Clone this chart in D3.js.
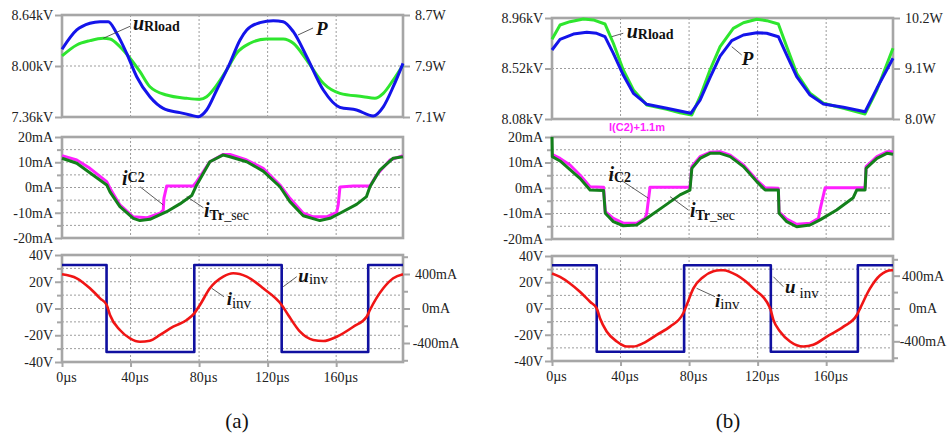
<!DOCTYPE html>
<html>
<head>
<meta charset="utf-8">
<script src="https://cdn.jsdelivr.net/npm/d3@7"></script>
<style>
  body { margin: 0; background: #fff; }
</style>
</head>
<body>
<div id="chart"></div>
<script>
// shared time axis (µs)
const timeDomain = [0, 199];
const timeTicks = [0, 40, 80, 120, 160];

// ---- panel (a) ----
// top: load voltage (kV, left) and power (W, right)
const aLoadVoltage = [[0,8.126],[8.6,8.264],[16.3,8.318],[24.1,8.347],[28,8.339],[33.8,8.242],[39.7,8.097],[45.5,7.929],[51.3,7.74],[61,7.636],[72.7,7.595],[80.5,7.582],[84.4,7.615],[90.3,7.76],[96.1,7.95],[101.9,8.16],[109.7,8.285],[119.4,8.339],[129.1,8.339],[135,8.285],[142.8,8.075],[152.5,7.783],[162.2,7.657],[175.8,7.615],[182.6,7.595],[187.5,7.657],[193.3,7.824],[199,8.013]];
const aPower = [[0,8.162],[8.6,8.465],[16.3,8.57],[22.2,8.595],[27,8.595],[31.9,8.413],[37.7,8.1],[43.6,7.732],[51.3,7.418],[59.1,7.236],[68.8,7.168],[74.7,7.131],[79.5,7.105],[84.4,7.21],[90.3,7.524],[98,7.945],[103.9,8.308],[107.8,8.465],[115.5,8.58],[123.3,8.61],[129.1,8.595],[135,8.438],[142.8,8.046],[152.5,7.524],[162.2,7.252],[171.9,7.21],[181.6,7.116],[187.5,7.26],[193.3,7.575],[199,7.942]];
// middle: capacitor current (+offset) and transformer secondary current (mA)
const aCapCurrent = [[0,12.6],[8.6,10.9],[16.3,7.6],[26.1,2.3],[28,-0.3],[33.8,-6.9],[41.6,-11.6],[49.4,-12],[57.2,-10.2],[59.1,-8.9],[59.5,-4.2],[61.1,0.6],[76.6,0.6],[78.6,2.3],[86.3,10.2],[94.1,13.1],[98,13.1],[107.8,10.9],[117.4,7.6],[127.2,1],[133,-4.3],[140.8,-10.2],[146.6,-11.6],[154.4,-11.6],[160.3,-9.8],[161.2,-6.9],[162.2,0.2],[170,0.6],[179.7,0.6],[183.6,4.9],[191.4,10.9],[199,12.6]];
const aSecCurrent = [[0,11.6],[8.6,9.6],[26.1,1],[28,-1.7],[33.8,-7.6],[41.6,-12.2],[45.5,-13.1],[51.3,-12.6],[61.1,-9.6],[68.8,-6.5],[75.7,-3.2],[78.6,1],[86.3,10.2],[94.1,12.9],[98,12.2],[107.8,10.2],[117.4,6.5],[127.2,0.3],[133,-5.6],[140.8,-11.2],[150.5,-13.1],[156.4,-12.2],[162.2,-10.2],[171.9,-6.7],[177.7,-3.6],[179.7,0.3],[185.5,6.9],[193.3,11.6],[199,12.2]];
// bottom: inverter voltage (V, left) and inverter current (mA, right)
const aInvVoltage = [[0,32.5],[26,32.5],[26,-32.5],[77.2,-32.5],[77.2,32.5],[128.2,32.5],[128.2,-32.5],[178.7,-32.5],[178.7,32.5],[199,32.5]];
const aInvCurrent = [[0,396],[8.6,350],[16.3,234],[22.2,118],[26.1,41],[28,-75],[33.8,-249],[39.7,-346],[45.5,-385],[51.3,-373],[57.2,-307],[64.9,-211],[72.8,-133],[77.2,-56],[80.5,41],[86.3,234],[94.1,369],[99.9,408],[107.8,369],[117.4,234],[128.2,41],[132,-75],[138.9,-269],[146.6,-365],[152.5,-377],[160.3,-327],[170,-211],[177.8,-95],[179.7,-17],[187.5,234],[193.3,350],[199,396]];

// ---- panel (b) ----
const bLoadVoltage = [[0,8.774],[4.7,8.899],[10.5,8.928],[18.3,8.951],[24.1,8.943],[30.9,8.908],[35.8,8.74],[41.6,8.507],[47.5,8.333],[55.3,8.202],[67,8.165],[74.7,8.135],[81.6,8.115],[86.4,8.274],[92.2,8.507],[98.1,8.71],[105.8,8.87],[111.7,8.919],[119.5,8.949],[125.3,8.937],[132.1,8.908],[137,8.71],[142.8,8.478],[150.6,8.304],[158.4,8.217],[170.1,8.173],[182.7,8.124],[189.6,8.333],[199,8.696]];
const bPower = [[0,9.503],[4.7,9.736],[12.5,9.851],[20.3,9.888],[26.1,9.867],[30.9,9.793],[35.8,9.431],[41.6,8.958],[47.5,8.559],[55.3,8.32],[67,8.233],[74.7,8.174],[81,8.124],[86.4,8.413],[92.2,8.9],[98.1,9.37],[104.9,9.706],[111.7,9.83],[119.5,9.88],[125.3,9.867],[132.1,9.793],[137,9.394],[142.8,8.921],[150.6,8.522],[158.4,8.326],[170.1,8.254],[182.7,8.158],[189.6,8.668],[199,9.322]];
const bCapCurrent = [[0,13.2],[4.7,11.6],[10.5,9.0],[16.3,5.1],[22.2,0.5],[30.1,0.3],[31.1,-9.3],[35.8,-11.9],[41.6,-13.8],[49.4,-13.8],[54.3,-11.9],[55.3,-9.9],[57.2,0.3],[80.5,0.3],[81.6,8.4],[86.4,12.3],[92.2,14.0],[98.1,14.2],[104,12.9],[111.7,9.0],[119.5,3.1],[124.4,0.1],[132.1,-0.1],[132.5,-9.5],[137,-12.2],[142.8,-14.2],[150.6,-13.8],[155.5,-11.9],[156.4,-8.6],[159.4,0.1],[182.7,0.1],[183.3,8.4],[189.6,12.3],[195.4,14.2],[199,14.2]];
const bSecCurrent = [[0,20],[0.2,12.3],[4.7,10.6],[16.3,3.8],[22.2,-0.8],[30.1,-1.0],[31.1,-9.9],[35.8,-13.2],[41.6,-14.8],[49.4,-14.5],[55.3,-11.9],[65,-7.3],[74.7,-2.7],[80.5,-0.8],[81.6,7.7],[86.4,11.6],[92.2,13.6],[98.1,13.6],[104,12.3],[111.7,8.4],[119.5,2.5],[124.4,-0.8],[132.1,-0.8],[132.5,-9.9],[137,-13.2],[142.8,-15.2],[150.6,-14.5],[156.4,-12.5],[166.1,-8.6],[175.8,-3.8],[177.8,-0.8],[182.7,-0.8],[183.3,7.7],[189.6,11.6],[195.4,13.6],[199,13.2]];
const bInvVoltage = [[0,33],[26.1,33],[26.1,-33],[77.1,-33],[77.1,33],[127.7,33],[127.7,-33],[178.5,-33],[178.5,33],[199,33]];
const bInvCurrent = [[0,427],[4.7,385],[10.5,305],[16.3,204],[22.2,82],[26.1,2],[28,-119],[31.9,-281],[37.8,-402],[43.6,-463],[47.5,-463],[53.3,-422],[61.1,-321],[68.9,-221],[76.6,-58],[78.6,42],[82.5,245],[88.3,385],[94.2,455],[98.1,467],[100,467],[107.8,406],[117.5,245],[127.3,2],[129.2,-139],[133.1,-281],[138.9,-402],[146.7,-463],[152.5,-442],[160.4,-342],[170.1,-221],[177.9,-79],[179.8,2],[185.6,245],[191.5,406],[198.3,467],[199,467]];

// tick values
const aTopLeftTicks = [7.36, 8.00, 8.64];
const aTopRightTicks = [7.1, 7.9, 8.7];
const bTopLeftTicks = [8.08, 8.52, 8.96];
const bTopRightTicks = [8.0, 9.1, 10.2];
const currentTicks = [-20, -10, 0, 10, 20];
const currentMinor = [-15, -5, 5, 15];
const currentGrid = [-15, -10, -5, 0, 5, 10, 15];
const voltTicks = [-40, -20, 0, 20, 40];
const voltMinor = [-30, -10, 10, 30];
const voltGrid = [-30, -20, -10, 0, 10, 20, 30];
const invCurrentTicks = [-400, 0, 400];
const invCurrentMinor = [-600, -200, 200, 600];

// colours
const frameColor = "#a6a6a6";
const gridColor = "#9c9c9c";
const lime = "#2ee62e";
const blue = "#1414ea";
const darkGreen = "#13801b";
const magenta = "#ff1fff";
const red = "#f01515";
const navy = "#1010a0";
const serif = "Liberation Serif, Times New Roman, serif";

const svg = d3.select("#chart").append("svg")
  .attr("width", 952)
  .attr("height", 434)
  .attr("font-family", serif);

const kv = d => d.toFixed(2) + "kV";
const watt = d => d.toFixed(1) + "W";
const ma = d => d + "mA";
const volt = d => d + "V";

const bi = (s, size, dx, dy) => ({ s, size, b: true, i: true, dx: dx || 0, dy: dy || 0 });
const bo = (s, size, dx, dy) => ({ s, size, b: true, i: false, dx: dx || 0, dy: dy || 0 });
const rg = (s, size, dx, dy) => ({ s, size, b: false, i: false, dx: dx || 0, dy: dy || 0 });

const panels = [
  {
    x0: 62, x1: 403, caption: "(a)", captionX: 237, rightShift: 33,
    plots: [
      {
        y0: 15, y1: 117,
        left: { domain: [7.36, 8.64], ticks: aTopLeftTicks, fmt: kv },
        right: { domain: [7.1, 8.7], ticks: aTopRightTicks, fmt: watt },
        grid: [8.0],
        series: [
          { data: aLoadVoltage, color: lime, w: 3, axis: "left", smooth: true },
          { data: aPower, color: blue, w: 3, axis: "right", smooth: true }
        ],
        notes: [
          { at: [41.4, 8.452], from: [40.1, 8.502], to: [24.1, 8.348], parts: [bi("u", 20), bo("Rload", 14, 0, 1.5)] },
          { at: [148.2, 8.389], from: [146.5, 8.477], to: [137.7, 8.389], parts: [bi("P", 19)] }
        ]
      },
      {
        y0: 137, y1: 238,
        left: { domain: [-20, 20], ticks: currentTicks, minor: currentMinor, fmt: ma },
        grid: currentGrid,
        series: [
          { data: aCapCurrent, color: magenta, w: 3, axis: "left" },
          { data: aSecCurrent, color: darkGreen, w: 3, axis: "left" }
        ],
        notes: [
          { at: [35, 1.0], from: [45.5, 0.3], to: [59.1, -6.9], parts: [bi("i", 20), bo("C2", 14, 0, -3)] },
          { at: [82.9, -11.7], from: [82.5, -8.0], to: [72.8, -3.6], parts: [bi("i", 20), bo("Tr", 14, 0, 3), rg("_sec", 14)] }
        ]
      },
      {
        y0: 255, y1: 362, xAxis: true,
        left: { domain: [-40, 40], ticks: voltTicks, minor: voltMinor, fmt: volt },
        right: { domain: [-620, 620], ticks: invCurrentTicks, minor: invCurrentMinor, fmt: ma, centered: true },
        grid: voltGrid,
        series: [
          { data: aInvVoltage, color: navy, w: 2.6, axis: "left" },
          { data: aInvCurrent, color: red, w: 2.6, axis: "right", smooth: true }
        ],
        notes: [
          { at: [96.1, 2.6], from: [94.5, 8.8], to: [87.4, 15.1], parts: [bi("i", 19), rg("inv", 15, 0, 3.3)] },
          { at: [137.9, 20.0], from: [137, 23.8], to: [129.1, 16.3], parts: [bi("u", 19), rg("inv", 15, 0, 2.6)] }
        ]
      }
    ]
  },
  {
    x0: 552, x1: 893, caption: "(b)", captionX: 728, rightShift: 30,
    plots: [
      {
        y0: 18, y1: 119,
        left: { domain: [8.08, 8.96], ticks: bTopLeftTicks, fmt: kv },
        right: { domain: [8.0, 10.2], ticks: bTopRightTicks, fmt: watt },
        grid: [8.52],
        series: [
          { data: bLoadVoltage, color: lime, w: 3, axis: "left" },
          { data: bPower, color: blue, w: 3, axis: "right" }
        ],
        notes: [
          { at: [43.6, 8.783], from: [41.6, 8.827], to: [34.8, 8.797], parts: [bi("u", 20), bo("Rload", 14, 0, 1)] },
          { at: [110.7, 8.550], from: [110.7, 8.638], to: [104.9, 8.710], parts: [bi("P", 19)] }
        ]
      },
      {
        y0: 137, y1: 239,
        left: { domain: [-20, 20], ticks: currentTicks, minor: currentMinor, fmt: ma },
        grid: currentGrid,
        series: [
          { data: bCapCurrent, color: magenta, w: 3, axis: "left" },
          { data: bSecCurrent, color: darkGreen, w: 3, axis: "left" }
        ],
        notes: [
          { at: [32.9, 2.7], from: [41.6, 2.5], to: [56.2, -4.0], parts: [bi("i", 20), bo("C2", 14, 0, 0.5)] },
          { at: [80.5, -11.4], from: [79.5, -8.6], to: [68.9, -3.4], parts: [bi("i", 20), bo("Tr", 14, 0, 3), rg("_sec", 14)] }
        ],
        tag: { at: [49.6, 22.4], text: "I(C2)+1.1m" }
      },
      {
        y0: 256, y1: 361, xAxis: true,
        left: { domain: [-40, 40], ticks: voltTicks, minor: voltMinor, fmt: volt },
        right: { domain: [-640, 640], ticks: invCurrentTicks, minor: invCurrentMinor, fmt: ma, centered: true },
        grid: voltGrid,
        series: [
          { data: bInvVoltage, color: navy, w: 2.6, axis: "left" },
          { data: bInvCurrent, color: red, w: 2.6, axis: "right", smooth: true }
        ],
        notes: [
          { at: [95.1, 1.4], from: [95.1, 9.0], to: [84.4, 15.4], parts: [bi("i", 19), rg("inv", 15, 0, 2.3)] },
          { at: [136.0, 11.6], from: [135.0, 16.6], to: [129.2, 24.2], parts: [bi("u", 19), rg("inv", 15, 4, 4.4)] }
        ]
      }
    ]
  }
];

function styleAxis(sel) {
  sel.attr("font-family", serif).attr("font-size", 14);
  sel.select(".domain").remove();
  sel.selectAll(".tick line").attr("stroke", frameColor).attr("stroke-width", 2);
  sel.selectAll(".tick text")
    .attr("fill", "#222")
    .attr("font-family", serif)
    .attr("font-size", 14);
}

let clipId = 0;
function drawPlot(panel, p) {
  const x = d3.scaleLinear().domain(timeDomain).range([panel.x0, panel.x1]);
  const yL = d3.scaleLinear().domain(p.left.domain).range([p.y1, p.y0]);
  const yR = p.right ? d3.scaleLinear().domain(p.right.domain).range([p.y1, p.y0]) : yL;
  const g = svg.append("g");

  // dotted grid
  g.selectAll(".vgrid").data(timeTicks.slice(1)).join("line")
    .attr("x1", d => x(d)).attr("x2", d => x(d))
    .attr("y1", p.y0).attr("y2", p.y1)
    .attr("stroke", gridColor).attr("stroke-width", 1).attr("stroke-dasharray", "2,2");
  g.selectAll(".hgrid").data(p.grid).join("line")
    .attr("x1", panel.x0).attr("x2", panel.x1)
    .attr("y1", d => yL(d)).attr("y2", d => yL(d))
    .attr("stroke", gridColor).attr("stroke-width", 1).attr("stroke-dasharray", "2,2");

  // frame
  g.append("rect")
    .attr("x", panel.x0).attr("y", p.y0)
    .attr("width", panel.x1 - panel.x0).attr("height", p.y1 - p.y0)
    .attr("fill", "none").attr("stroke", frameColor).attr("stroke-width", 2.6);

  // left axis
  const la = g.append("g").attr("transform", `translate(${panel.x0},0)`)
    .call(d3.axisLeft(yL).tickValues(p.left.ticks).tickFormat(p.left.fmt).tickSize(7).tickPadding(2));
  styleAxis(la);
  if (p.left.minor) {
    const lm = g.append("g").attr("transform", `translate(${panel.x0},0)`)
      .call(d3.axisLeft(yL).tickValues(p.left.minor).tickFormat("").tickSize(5));
    styleAxis(lm);
  }

  // right axis
  if (p.right) {
    const ra = g.append("g").attr("transform", `translate(${panel.x1},0)`)
      .call(d3.axisRight(yR).tickValues(p.right.ticks).tickFormat(p.right.fmt).tickSize(7).tickPadding(5));
    styleAxis(ra);
    if (p.right.centered) {
      ra.selectAll(".tick text").attr("text-anchor", "middle").attr("x", panel.rightShift);
    }
    if (p.right.minor) {
      const rm = g.append("g").attr("transform", `translate(${panel.x1},0)`)
        .call(d3.axisRight(yR).tickValues(p.right.minor).tickFormat("").tickSize(5));
      styleAxis(rm);
    }
  }

  // time axis
  if (p.xAxis) {
    const xa = g.append("g").attr("transform", `translate(0,${p.y1})`)
      .call(d3.axisBottom(x).tickValues(timeTicks).tickFormat(d => d + "µs").tickSize(5).tickPadding(5));
    styleAxis(xa);
    xa.selectAll(".tick text").attr("dx", 4);
  }

  // curves
  const cid = "clip" + (clipId++);
  svg.append("clipPath").attr("id", cid).append("rect")
    .attr("x", panel.x0 - 2).attr("y", p.y0 - 2)
    .attr("width", panel.x1 - panel.x0 + 4).attr("height", p.y1 - p.y0 + 4);
  const cg = g.append("g").attr("clip-path", `url(#${cid})`);
  p.series.forEach(s => {
    const y = s.axis === "right" ? yR : yL;
    const line = d3.line()
      .x(d => x(d[0]))
      .y(d => y(d[1]))
      .curve(s.smooth ? d3.curveMonotoneX : d3.curveLinear);
    cg.append("path")
      .datum(s.data)
      .attr("d", line)
      .attr("fill", "none")
      .attr("stroke", s.color)
      .attr("stroke-width", s.w)
      .attr("stroke-linejoin", "round")
      .attr("stroke-linecap", "butt");
  });

  // labels with leader lines
  p.notes.forEach(n => {
    g.append("line")
      .attr("x1", x(n.from[0])).attr("y1", yL(n.from[1]))
      .attr("x2", x(n.to[0])).attr("y2", yL(n.to[1]))
      .attr("stroke", "#333").attr("stroke-width", 0.8);
    const t = g.append("text")
      .attr("x", x(n.at[0])).attr("y", yL(n.at[1]))
      .attr("font-family", serif)
      .attr("fill", "#111");
    n.parts.forEach(pt => {
      t.append("tspan")
        .text(pt.s)
        .attr("dx", pt.dx)
        .attr("dy", pt.dy)
        .attr("font-size", pt.size)
        .attr("font-weight", pt.b ? "bold" : "normal")
        .attr("font-style", pt.i ? "italic" : "normal");
    });
  });

  if (p.tag) {
    g.append("text")
      .attr("x", x(p.tag.at[0])).attr("y", yL(p.tag.at[1]))
      .attr("text-anchor", "middle")
      .attr("fill", magenta)
      .attr("font-family", "Liberation Sans, Arial, sans-serif")
      .attr("font-weight", "bold")
      .attr("font-size", 11)
      .text(p.tag.text);
  }
}

panels.forEach(panel => {
  panel.plots.forEach(p => drawPlot(panel, p));
  svg.append("text")
    .attr("x", panel.captionX).attr("y", 428)
    .attr("text-anchor", "middle")
    .attr("font-family", serif)
    .attr("font-size", 21)
    .attr("fill", "#111")
    .text(panel.caption);
});
</script>
</body>
</html>
